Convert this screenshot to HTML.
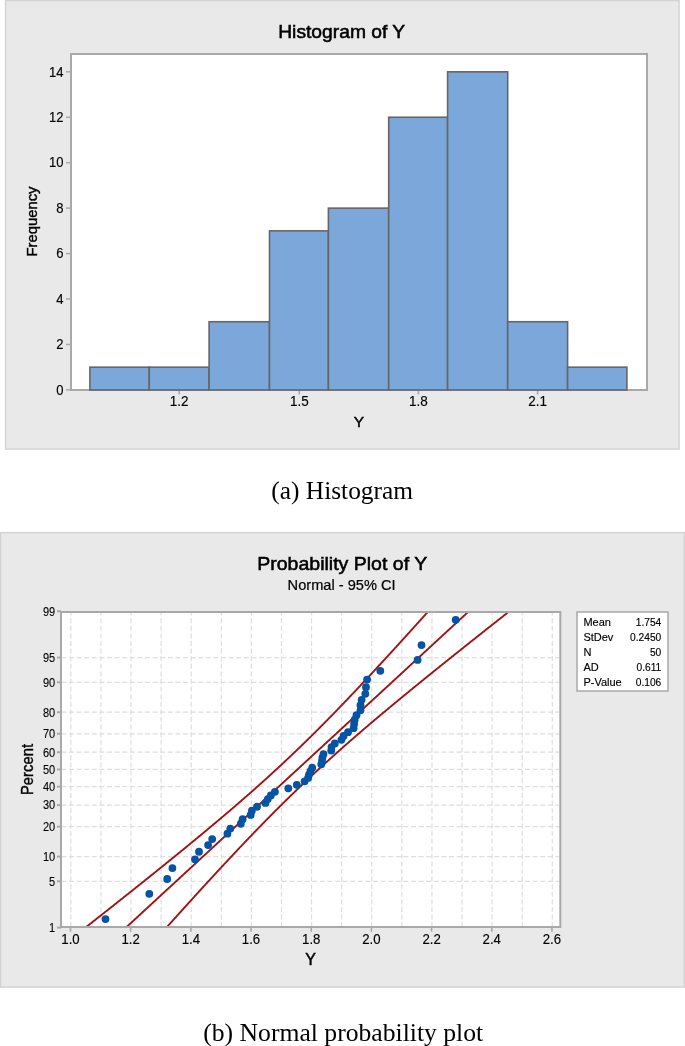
<!DOCTYPE html>
<html><head><meta charset="utf-8"><title>Histogram and Normal Probability Plot of Y</title>
<style>
html,body{margin:0;padding:0;background:#ffffff;}
body{width:685px;height:1046px;overflow:hidden;}
svg{display:block;}
</style></head>
<body>
<svg width="685" height="1046" viewBox="0 0 685 1046">
<rect x="5.6" y="0.5" width="673.5" height="448.6" fill="#e9e9e9" stroke="#d2d2d2" stroke-width="1.4"/>
<text transform="translate(341.70 37.70)" style="font-family:'Liberation Sans', Arial, sans-serif;font-size:19px" fill="#000000" stroke="#000000" stroke-width="0.55" text-anchor="middle" textLength="127" lengthAdjust="spacingAndGlyphs">Histogram of Y</text>
<rect x="71" y="54" width="576" height="336" fill="#ffffff"/>
<path d="M71 54H647V390H71Z" fill="none" stroke="#a9a9a9" stroke-width="2"/>
<rect x="89.90" y="367.18" width="59.35" height="22.82" fill="#7ba7da" stroke="#666666" stroke-width="1.6"/>
<rect x="149.25" y="367.18" width="59.85" height="22.82" fill="#7ba7da" stroke="#666666" stroke-width="1.6"/>
<rect x="209.10" y="321.74" width="60.40" height="68.26" fill="#7ba7da" stroke="#666666" stroke-width="1.6"/>
<rect x="269.50" y="230.86" width="58.90" height="159.14" fill="#7ba7da" stroke="#666666" stroke-width="1.6"/>
<rect x="328.40" y="208.14" width="60.30" height="181.86" fill="#7ba7da" stroke="#666666" stroke-width="1.6"/>
<rect x="388.70" y="117.26" width="58.90" height="272.74" fill="#7ba7da" stroke="#666666" stroke-width="1.6"/>
<rect x="447.60" y="71.82" width="60.10" height="318.18" fill="#7ba7da" stroke="#666666" stroke-width="1.6"/>
<rect x="507.70" y="321.74" width="59.90" height="68.26" fill="#7ba7da" stroke="#666666" stroke-width="1.6"/>
<rect x="567.60" y="367.18" width="59.30" height="22.82" fill="#7ba7da" stroke="#666666" stroke-width="1.6"/>
<line x1="66" y1="389.90" x2="71" y2="389.90" stroke="#a9a9a9" stroke-width="1.5"/>
<text transform="translate(63.60 394.60) scale(0.87 1)" style="font-family:'Liberation Sans', Arial, sans-serif;font-size:15px" fill="#000000" stroke="#000000" stroke-width="0.15" text-anchor="end">0</text>
<line x1="66" y1="344.46" x2="71" y2="344.46" stroke="#a9a9a9" stroke-width="1.5"/>
<text transform="translate(63.60 349.16) scale(0.87 1)" style="font-family:'Liberation Sans', Arial, sans-serif;font-size:15px" fill="#000000" stroke="#000000" stroke-width="0.15" text-anchor="end">2</text>
<line x1="66" y1="299.02" x2="71" y2="299.02" stroke="#a9a9a9" stroke-width="1.5"/>
<text transform="translate(63.60 303.72) scale(0.87 1)" style="font-family:'Liberation Sans', Arial, sans-serif;font-size:15px" fill="#000000" stroke="#000000" stroke-width="0.15" text-anchor="end">4</text>
<line x1="66" y1="253.58" x2="71" y2="253.58" stroke="#a9a9a9" stroke-width="1.5"/>
<text transform="translate(63.60 258.28) scale(0.87 1)" style="font-family:'Liberation Sans', Arial, sans-serif;font-size:15px" fill="#000000" stroke="#000000" stroke-width="0.15" text-anchor="end">6</text>
<line x1="66" y1="208.14" x2="71" y2="208.14" stroke="#a9a9a9" stroke-width="1.5"/>
<text transform="translate(63.60 212.84) scale(0.87 1)" style="font-family:'Liberation Sans', Arial, sans-serif;font-size:15px" fill="#000000" stroke="#000000" stroke-width="0.15" text-anchor="end">8</text>
<line x1="66" y1="162.70" x2="71" y2="162.70" stroke="#a9a9a9" stroke-width="1.5"/>
<text transform="translate(63.60 167.40) scale(0.87 1)" style="font-family:'Liberation Sans', Arial, sans-serif;font-size:15px" fill="#000000" stroke="#000000" stroke-width="0.15" text-anchor="end">10</text>
<line x1="66" y1="117.26" x2="71" y2="117.26" stroke="#a9a9a9" stroke-width="1.5"/>
<text transform="translate(63.60 121.96) scale(0.87 1)" style="font-family:'Liberation Sans', Arial, sans-serif;font-size:15px" fill="#000000" stroke="#000000" stroke-width="0.15" text-anchor="end">12</text>
<line x1="66" y1="71.82" x2="71" y2="71.82" stroke="#a9a9a9" stroke-width="1.5"/>
<text transform="translate(63.60 76.52) scale(0.87 1)" style="font-family:'Liberation Sans', Arial, sans-serif;font-size:15px" fill="#000000" stroke="#000000" stroke-width="0.15" text-anchor="end">14</text>
<line x1="179.20" y1="391" x2="179.20" y2="394.4" stroke="#a9a9a9" stroke-width="1.6"/>
<text transform="translate(179.20 406.00) scale(0.9 1)" style="font-family:'Liberation Sans', Arial, sans-serif;font-size:15px" fill="#000000" stroke="#000000" stroke-width="0.15" text-anchor="middle">1.2</text>
<line x1="299.30" y1="391" x2="299.30" y2="394.4" stroke="#a9a9a9" stroke-width="1.6"/>
<text transform="translate(299.30 406.00) scale(0.9 1)" style="font-family:'Liberation Sans', Arial, sans-serif;font-size:15px" fill="#000000" stroke="#000000" stroke-width="0.15" text-anchor="middle">1.5</text>
<line x1="418.40" y1="391" x2="418.40" y2="394.4" stroke="#a9a9a9" stroke-width="1.6"/>
<text transform="translate(418.40 406.00) scale(0.9 1)" style="font-family:'Liberation Sans', Arial, sans-serif;font-size:15px" fill="#000000" stroke="#000000" stroke-width="0.15" text-anchor="middle">1.8</text>
<line x1="537.60" y1="391" x2="537.60" y2="394.4" stroke="#a9a9a9" stroke-width="1.6"/>
<text transform="translate(537.60 406.00) scale(0.9 1)" style="font-family:'Liberation Sans', Arial, sans-serif;font-size:15px" fill="#000000" stroke="#000000" stroke-width="0.15" text-anchor="middle">2.1</text>
<text transform="translate(359.00 427.20)" style="font-family:'Liberation Sans', Arial, sans-serif;font-size:15.5px" fill="#000000" stroke="#000000" stroke-width="0.45" text-anchor="middle">Y</text>
<text transform="translate(37.20 221.50) rotate(-90)" style="font-family:'Liberation Sans', Arial, sans-serif;font-size:15.5px" fill="#000000" stroke="#000000" stroke-width="0.38" text-anchor="middle" textLength="70" lengthAdjust="spacingAndGlyphs">Frequency</text>
<text transform="translate(271.30 499.20)" style="font-family:'Liberation Serif', 'Times New Roman', serif;font-size:25.4px" fill="#000">(a) Histogram</text>
<rect x="0.6" y="532.6" width="683.7" height="454.5" fill="#e9e9e9" stroke="#d2d2d2" stroke-width="1.4"/>
<text transform="translate(342.20 570.20)" style="font-family:'Liberation Sans', Arial, sans-serif;font-size:19px" fill="#000000" stroke="#000000" stroke-width="0.55" text-anchor="middle" textLength="170" lengthAdjust="spacingAndGlyphs">Probability Plot of Y</text>
<text transform="translate(341.60 589.80)" style="font-family:'Liberation Sans', Arial, sans-serif;font-size:14.5px" fill="#000000" stroke="#000000" stroke-width="0.2" text-anchor="middle" textLength="108" lengthAdjust="spacingAndGlyphs">Normal - 95% CI</text>
<rect x="61" y="612" width="499.29999999999995" height="314.9" fill="#ffffff"/>
<path d="M70.85 613V925.9 M100.94 613V925.9 M131.03 613V925.9 M161.12 613V925.9 M191.21 613V925.9 M221.30 613V925.9 M251.39 613V925.9 M281.48 613V925.9 M311.57 613V925.9 M341.66 613V925.9 M371.75 613V925.9 M401.84 613V925.9 M431.93 613V925.9 M462.02 613V925.9 M492.11 613V925.9 M522.20 613V925.9 M552.29 613V925.9" stroke="#dedede" stroke-width="1.2" stroke-dasharray="5 2.6" stroke-dashoffset="2.4" fill="none"/>
<path d="M62 881.30H559.3 M62 856.60H559.3 M62 826.68H559.3 M62 805.11H559.3 M62 786.68H559.3 M62 769.45H559.3 M62 752.22H559.3 M62 733.79H559.3 M62 712.22H559.3 M62 682.30H559.3 M62 657.60H559.3" stroke="#dedede" stroke-width="1.2" stroke-dasharray="5 2.6" stroke-dashoffset="0.6" fill="none"/>
<clipPath id="pc"><rect x="61" y="612" width="499.29999999999995" height="314.9"/></clipPath>
<g clip-path="url(#pc)" fill="none" stroke="#9e1414" stroke-width="1.9">
<path d="M76.22 973.45 L76.95 972.77 L77.69 972.09 L78.43 971.41 L79.17 970.73 L79.90 970.05 L80.64 969.37 L81.38 968.69 L82.11 968.01 L82.85 967.33 L83.59 966.65 L84.33 965.97 L85.06 965.29 L85.80 964.61 L86.54 963.93 L87.28 963.25 L88.01 962.57 L88.75 961.89 L89.49 961.21 L90.22 960.53 L90.96 959.85 L91.70 959.17 L92.44 958.49 L93.17 957.81 L93.91 957.13 L94.65 956.45 L95.38 955.77 L96.12 955.09 L96.86 954.41 L97.60 953.73 L98.33 953.05 L99.07 952.37 L99.81 951.69 L100.54 951.01 L101.28 950.33 L102.02 949.65 L102.76 948.97 L103.49 948.29 L104.23 947.61 L104.97 946.93 L105.71 946.25 L106.44 945.57 L107.18 944.89 L107.92 944.21 L108.65 943.53 L109.39 942.85 L110.13 942.17 L110.87 941.49 L111.60 940.81 L112.34 940.13 L113.08 939.45 L113.81 938.77 L114.55 938.09 L115.29 937.41 L116.03 936.73 L116.76 936.05 L117.50 935.37 L118.24 934.69 L118.97 934.01 L119.71 933.33 L120.45 932.65 L121.19 931.97 L121.92 931.29 L122.66 930.61 L123.40 929.93 L124.14 929.25 L124.87 928.57 L125.61 927.89 L126.35 927.21 L127.08 926.53 L127.82 925.85 L128.56 925.17 L129.30 924.49 L130.03 923.81 L130.77 923.13 L131.51 922.45 L132.24 921.77 L132.98 921.09 L133.72 920.41 L134.46 919.73 L135.19 919.05 L135.93 918.37 L136.67 917.69 L137.41 917.01 L138.14 916.33 L138.88 915.65 L139.62 914.97 L140.35 914.29 L141.09 913.61 L141.83 912.93 L142.57 912.25 L143.30 911.57 L144.04 910.89 L144.78 910.21 L145.51 909.53 L146.25 908.85 L146.99 908.17 L147.73 907.49 L148.46 906.81 L149.20 906.13 L149.94 905.45 L150.67 904.77 L151.41 904.09 L152.15 903.41 L152.89 902.73 L153.62 902.05 L154.36 901.37 L155.10 900.69 L155.84 900.01 L156.57 899.33 L157.31 898.65 L158.05 897.97 L158.78 897.29 L159.52 896.61 L160.26 895.93 L161.00 895.25 L161.73 894.57 L162.47 893.89 L163.21 893.21 L163.94 892.53 L164.68 891.85 L165.42 891.17 L166.16 890.49 L166.89 889.81 L167.63 889.13 L168.37 888.45 L169.10 887.77 L169.84 887.09 L170.58 886.41 L171.32 885.73 L172.05 885.05 L172.79 884.37 L173.53 883.69 L174.27 883.01 L175.00 882.33 L175.74 881.65 L176.48 880.97 L177.21 880.29 L177.95 879.61 L178.69 878.93 L179.43 878.25 L180.16 877.57 L180.90 876.89 L181.64 876.21 L182.37 875.53 L183.11 874.85 L183.85 874.17 L184.59 873.49 L185.32 872.81 L186.06 872.13 L186.80 871.45 L187.54 870.77 L188.27 870.09 L189.01 869.41 L189.75 868.73 L190.48 868.05 L191.22 867.37 L191.96 866.69 L192.70 866.01 L193.43 865.33 L194.17 864.65 L194.91 863.97 L195.64 863.29 L196.38 862.61 L197.12 861.93 L197.86 861.25 L198.59 860.57 L199.33 859.89 L200.07 859.21 L200.80 858.53 L201.54 857.85 L202.28 857.17 L203.02 856.49 L203.75 855.81 L204.49 855.13 L205.23 854.45 L205.97 853.77 L206.70 853.09 L207.44 852.41 L208.18 851.73 L208.91 851.05 L209.65 850.37 L210.39 849.69 L211.13 849.01 L211.86 848.33 L212.60 847.65 L213.34 846.97 L214.07 846.29 L214.81 845.61 L215.55 844.93 L216.29 844.25 L217.02 843.57 L217.76 842.89 L218.50 842.21 L219.23 841.53 L219.97 840.85 L220.71 840.17 L221.45 839.49 L222.18 838.81 L222.92 838.13 L223.66 837.45 L224.40 836.77 L225.13 836.09 L225.87 835.41 L226.61 834.73 L227.34 834.05 L228.08 833.37 L228.82 832.69 L229.56 832.01 L230.29 831.33 L231.03 830.65 L231.77 829.97 L232.50 829.29 L233.24 828.61 L233.98 827.93 L234.72 827.25 L235.45 826.57 L236.19 825.89 L236.93 825.21 L237.66 824.53 L238.40 823.85 L239.14 823.17 L239.88 822.49 L240.61 821.81 L241.35 821.13 L242.09 820.45 L242.83 819.77 L243.56 819.09 L244.30 818.41 L245.04 817.73 L245.77 817.05 L246.51 816.37 L247.25 815.69 L247.99 815.01 L248.72 814.33 L249.46 813.65 L250.20 812.97 L250.93 812.29 L251.67 811.61 L252.41 810.93 L253.15 810.25 L253.88 809.57 L254.62 808.89 L255.36 808.21 L256.10 807.53 L256.83 806.85 L257.57 806.17 L258.31 805.49 L259.04 804.81 L259.78 804.13 L260.52 803.45 L261.26 802.77 L261.99 802.09 L262.73 801.41 L263.47 800.73 L264.20 800.05 L264.94 799.37 L265.68 798.69 L266.42 798.01 L267.15 797.33 L267.89 796.65 L268.63 795.97 L269.36 795.29 L270.10 794.61 L270.84 793.93 L271.58 793.25 L272.31 792.57 L273.05 791.89 L273.79 791.21 L274.53 790.53 L275.26 789.85 L276.00 789.17 L276.74 788.49 L277.47 787.81 L278.21 787.13 L278.95 786.45 L279.69 785.77 L280.42 785.09 L281.16 784.41 L281.90 783.73 L282.63 783.05 L283.37 782.37 L284.11 781.69 L284.85 781.01 L285.58 780.33 L286.32 779.65 L287.06 778.97 L287.79 778.29 L288.53 777.61 L289.27 776.93 L290.01 776.25 L290.74 775.57 L291.48 774.89 L292.22 774.21 L292.96 773.53 L293.69 772.85 L294.43 772.17 L295.17 771.49 L295.90 770.81 L296.64 770.13 L297.38 769.45 L298.12 768.77 L298.85 768.09 L299.59 767.41 L300.33 766.73 L301.06 766.05 L301.80 765.37 L302.54 764.69 L303.28 764.01 L304.01 763.33 L304.75 762.65 L305.49 761.97 L306.23 761.29 L306.96 760.61 L307.70 759.93 L308.44 759.25 L309.17 758.57 L309.91 757.89 L310.65 757.21 L311.39 756.53 L312.12 755.85 L312.86 755.17 L313.60 754.49 L314.33 753.81 L315.07 753.13 L315.81 752.45 L316.55 751.77 L317.28 751.09 L318.02 750.41 L318.76 749.73 L319.49 749.05 L320.23 748.37 L320.97 747.69 L321.71 747.01 L322.44 746.33 L323.18 745.65 L323.92 744.97 L324.66 744.29 L325.39 743.61 L326.13 742.93 L326.87 742.25 L327.60 741.57 L328.34 740.89 L329.08 740.21 L329.82 739.53 L330.55 738.85 L331.29 738.17 L332.03 737.49 L332.76 736.81 L333.50 736.13 L334.24 735.45 L334.98 734.77 L335.71 734.09 L336.45 733.41 L337.19 732.73 L337.92 732.05 L338.66 731.37 L339.40 730.69 L340.14 730.01 L340.87 729.33 L341.61 728.65 L342.35 727.97 L343.09 727.29 L343.82 726.61 L344.56 725.93 L345.30 725.25 L346.03 724.57 L346.77 723.89 L347.51 723.21 L348.25 722.53 L348.98 721.85 L349.72 721.17 L350.46 720.49 L351.19 719.81 L351.93 719.13 L352.67 718.45 L353.41 717.77 L354.14 717.09 L354.88 716.41 L355.62 715.73 L356.35 715.05 L357.09 714.37 L357.83 713.69 L358.57 713.01 L359.30 712.33 L360.04 711.65 L360.78 710.97 L361.52 710.29 L362.25 709.61 L362.99 708.93 L363.73 708.25 L364.46 707.57 L365.20 706.89 L365.94 706.21 L366.68 705.53 L367.41 704.85 L368.15 704.17 L368.89 703.49 L369.62 702.81 L370.36 702.13 L371.10 701.45 L371.84 700.77 L372.57 700.09 L373.31 699.41 L374.05 698.73 L374.79 698.05 L375.52 697.37 L376.26 696.69 L377.00 696.01 L377.73 695.33 L378.47 694.65 L379.21 693.97 L379.95 693.29 L380.68 692.61 L381.42 691.93 L382.16 691.25 L382.89 690.57 L383.63 689.89 L384.37 689.21 L385.11 688.53 L385.84 687.85 L386.58 687.17 L387.32 686.49 L388.05 685.81 L388.79 685.13 L389.53 684.45 L390.27 683.77 L391.00 683.09 L391.74 682.41 L392.48 681.73 L393.22 681.05 L393.95 680.37 L394.69 679.69 L395.43 679.01 L396.16 678.33 L396.90 677.65 L397.64 676.97 L398.38 676.29 L399.11 675.61 L399.85 674.93 L400.59 674.25 L401.32 673.57 L402.06 672.89 L402.80 672.21 L403.54 671.53 L404.27 670.85 L405.01 670.17 L405.75 669.49 L406.48 668.81 L407.22 668.13 L407.96 667.45 L408.70 666.77 L409.43 666.09 L410.17 665.41 L410.91 664.73 L411.65 664.05 L412.38 663.37 L413.12 662.69 L413.86 662.01 L414.59 661.33 L415.33 660.65 L416.07 659.97 L416.81 659.29 L417.54 658.61 L418.28 657.93 L419.02 657.25 L419.75 656.57 L420.49 655.89 L421.23 655.21 L421.97 654.53 L422.70 653.85 L423.44 653.17 L424.18 652.49 L424.92 651.81 L425.65 651.13 L426.39 650.45 L427.13 649.77 L427.86 649.09 L428.60 648.41 L429.34 647.73 L430.08 647.05 L430.81 646.37 L431.55 645.69 L432.29 645.01 L433.02 644.33 L433.76 643.65 L434.50 642.97 L435.24 642.29 L435.97 641.61 L436.71 640.93 L437.45 640.25 L438.18 639.57 L438.92 638.89 L439.66 638.21 L440.40 637.53 L441.13 636.85 L441.87 636.17 L442.61 635.49 L443.35 634.81 L444.08 634.13 L444.82 633.45 L445.56 632.77 L446.29 632.09 L447.03 631.41 L447.77 630.73 L448.51 630.05 L449.24 629.37 L449.98 628.69 L450.72 628.01 L451.45 627.33 L452.19 626.65 L452.93 625.97 L453.67 625.29 L454.40 624.61 L455.14 623.93 L455.88 623.25 L456.61 622.57 L457.35 621.89 L458.09 621.21 L458.83 620.53 L459.56 619.85 L460.30 619.17 L461.04 618.49 L461.78 617.81 L462.51 617.13 L463.25 616.45 L463.99 615.77 L464.72 615.09 L465.46 614.41 L466.20 613.73 L466.94 613.05 L467.67 612.37 L468.41 611.69 L469.15 611.01 L469.88 610.33 L470.62 609.65 L471.36 608.97 L472.10 608.29 L472.83 607.61 L473.57 606.93 L474.31 606.25 L475.05 605.57 L475.78 604.89 L476.52 604.21 L477.26 603.53 L477.99 602.85 L478.73 602.17 L479.47 601.49 L480.21 600.81 L480.94 600.13 L481.68 599.45 L482.42 598.77 L483.15 598.09 L483.89 597.41 L484.63 596.73 L485.37 596.05 L486.10 595.37 L486.84 594.69 L487.58 594.01 L488.31 593.33 L489.05 592.65 L489.79 591.97 L490.53 591.29 L491.26 590.61 L492.00 589.93 L492.74 589.25 L493.48 588.57 L494.21 587.89 L494.95 587.21 L495.69 586.53 L496.42 585.85 L497.16 585.17 L497.90 584.49 L498.64 583.81 L499.37 583.13 L500.11 582.45 L500.85 581.77 L501.58 581.09 L502.32 580.41 L503.06 579.73 L503.80 579.05 L504.53 578.37 L505.27 577.69 L506.01 577.01 L506.74 576.33 L507.48 575.65 L508.22 574.97 L508.96 574.29 L509.69 573.61 L510.43 572.93 L511.17 572.25 L511.91 571.57 L512.64 570.89 L513.38 570.21 L514.12 569.53 L514.85 568.85 L515.59 568.17 L516.33 567.49 L517.07 566.81 L517.80 566.13 L518.54 565.45"/>
<path d="M26.86 973.45 L27.73 972.77 L28.60 972.09 L29.47 971.41 L30.34 970.73 L31.21 970.05 L32.09 969.37 L32.96 968.69 L33.83 968.01 L34.70 967.33 L35.57 966.65 L36.44 965.97 L37.31 965.29 L38.18 964.61 L39.05 963.93 L39.92 963.25 L40.80 962.57 L41.67 961.89 L42.54 961.21 L43.41 960.53 L44.28 959.85 L45.15 959.17 L46.02 958.49 L46.89 957.81 L47.76 957.13 L48.63 956.45 L49.49 955.77 L50.36 955.09 L51.23 954.41 L52.10 953.73 L52.97 953.05 L53.84 952.37 L54.71 951.69 L55.58 951.01 L56.45 950.33 L57.32 949.65 L58.18 948.97 L59.05 948.29 L59.92 947.61 L60.79 946.93 L61.66 946.25 L62.52 945.57 L63.39 944.89 L64.26 944.21 L65.13 943.53 L65.99 942.85 L66.86 942.17 L67.73 941.49 L68.60 940.81 L69.46 940.13 L70.33 939.45 L71.20 938.77 L72.06 938.09 L72.93 937.41 L73.80 936.73 L74.66 936.05 L75.53 935.37 L76.39 934.69 L77.26 934.01 L78.13 933.33 L78.99 932.65 L79.86 931.97 L80.72 931.29 L81.59 930.61 L82.45 929.93 L83.32 929.25 L84.18 928.57 L85.05 927.89 L85.91 927.21 L86.77 926.53 L87.64 925.85 L88.50 925.17 L89.37 924.49 L90.23 923.81 L91.09 923.13 L91.96 922.45 L92.82 921.77 L93.68 921.09 L94.55 920.41 L95.41 919.73 L96.27 919.05 L97.13 918.37 L97.99 917.69 L98.86 917.01 L99.72 916.33 L100.58 915.65 L101.44 914.97 L102.30 914.29 L103.16 913.61 L104.02 912.93 L104.89 912.25 L105.75 911.57 L106.61 910.89 L107.47 910.21 L108.33 909.53 L109.19 908.85 L110.05 908.17 L110.91 907.49 L111.76 906.81 L112.62 906.13 L113.48 905.45 L114.34 904.77 L115.20 904.09 L116.06 903.41 L116.92 902.73 L117.77 902.05 L118.63 901.37 L119.49 900.69 L120.35 900.01 L121.20 899.33 L122.06 898.65 L122.92 897.97 L123.77 897.29 L124.63 896.61 L125.48 895.93 L126.34 895.25 L127.19 894.57 L128.05 893.89 L128.90 893.21 L129.76 892.53 L130.61 891.85 L131.47 891.17 L132.32 890.49 L133.18 889.81 L134.03 889.13 L134.88 888.45 L135.73 887.77 L136.59 887.09 L137.44 886.41 L138.29 885.73 L139.14 885.05 L139.99 884.37 L140.85 883.69 L141.70 883.01 L142.55 882.33 L143.40 881.65 L144.25 880.97 L145.10 880.29 L145.95 879.61 L146.80 878.93 L147.65 878.25 L148.49 877.57 L149.34 876.89 L150.19 876.21 L151.04 875.53 L151.88 874.85 L152.73 874.17 L153.58 873.49 L154.42 872.81 L155.27 872.13 L156.12 871.45 L156.96 870.77 L157.81 870.09 L158.65 869.41 L159.50 868.73 L160.34 868.05 L161.18 867.37 L162.03 866.69 L162.87 866.01 L163.71 865.33 L164.55 864.65 L165.40 863.97 L166.24 863.29 L167.08 862.61 L167.92 861.93 L168.76 861.25 L169.60 860.57 L170.44 859.89 L171.28 859.21 L172.12 858.53 L172.95 857.85 L173.79 857.17 L174.63 856.49 L175.47 855.81 L176.30 855.13 L177.14 854.45 L177.97 853.77 L178.81 853.09 L179.64 852.41 L180.48 851.73 L181.31 851.05 L182.14 850.37 L182.98 849.69 L183.81 849.01 L184.64 848.33 L185.47 847.65 L186.30 846.97 L187.13 846.29 L187.96 845.61 L188.79 844.93 L189.62 844.25 L190.45 843.57 L191.28 842.89 L192.10 842.21 L192.93 841.53 L193.76 840.85 L194.58 840.17 L195.41 839.49 L196.23 838.81 L197.06 838.13 L197.88 837.45 L198.70 836.77 L199.53 836.09 L200.35 835.41 L201.17 834.73 L201.99 834.05 L202.81 833.37 L203.63 832.69 L204.45 832.01 L205.26 831.33 L206.08 830.65 L206.90 829.97 L207.72 829.29 L208.53 828.61 L209.35 827.93 L210.16 827.25 L210.97 826.57 L211.79 825.89 L212.60 825.21 L213.41 824.53 L214.22 823.85 L215.03 823.17 L215.84 822.49 L216.65 821.81 L217.46 821.13 L218.26 820.45 L219.07 819.77 L219.88 819.09 L220.68 818.41 L221.49 817.73 L222.29 817.05 L223.09 816.37 L223.89 815.69 L224.70 815.01 L225.50 814.33 L226.30 813.65 L227.10 812.97 L227.89 812.29 L228.69 811.61 L229.49 810.93 L230.28 810.25 L231.08 809.57 L231.87 808.89 L232.67 808.21 L233.46 807.53 L234.25 806.85 L235.04 806.17 L235.83 805.49 L236.62 804.81 L237.41 804.13 L238.19 803.45 L238.98 802.77 L239.77 802.09 L240.55 801.41 L241.33 800.73 L242.12 800.05 L242.90 799.37 L243.68 798.69 L244.46 798.01 L245.24 797.33 L246.02 796.65 L246.79 795.97 L247.57 795.29 L248.35 794.61 L249.12 793.93 L249.89 793.25 L250.67 792.57 L251.44 791.89 L252.21 791.21 L252.98 790.53 L253.75 789.85 L254.51 789.17 L255.28 788.49 L256.05 787.81 L256.81 787.13 L257.57 786.45 L258.34 785.77 L259.10 785.09 L259.86 784.41 L260.62 783.73 L261.38 783.05 L262.14 782.37 L262.89 781.69 L263.65 781.01 L264.40 780.33 L265.16 779.65 L265.91 778.97 L266.66 778.29 L267.41 777.61 L268.16 776.93 L268.91 776.25 L269.65 775.57 L270.40 774.89 L271.15 774.21 L271.89 773.53 L272.63 772.85 L273.37 772.17 L274.11 771.49 L274.85 770.81 L275.59 770.13 L276.33 769.45 L277.07 768.77 L277.80 768.09 L278.54 767.41 L279.27 766.73 L280.00 766.05 L280.74 765.37 L281.47 764.69 L282.20 764.01 L282.92 763.33 L283.65 762.65 L284.38 761.97 L285.10 761.29 L285.83 760.61 L286.55 759.93 L287.27 759.25 L287.99 758.57 L288.71 757.89 L289.43 757.21 L290.15 756.53 L290.87 755.85 L291.58 755.17 L292.30 754.49 L293.01 753.81 L293.72 753.13 L294.44 752.45 L295.15 751.77 L295.86 751.09 L296.56 750.41 L297.27 749.73 L297.98 749.05 L298.68 748.37 L299.39 747.69 L300.09 747.01 L300.80 746.33 L301.50 745.65 L302.20 744.97 L302.90 744.29 L303.60 743.61 L304.30 742.93 L304.99 742.25 L305.69 741.57 L306.39 740.89 L307.08 740.21 L307.77 739.53 L308.47 738.85 L309.16 738.17 L309.85 737.49 L310.54 736.81 L311.23 736.13 L311.91 735.45 L312.60 734.77 L313.29 734.09 L313.97 733.41 L314.66 732.73 L315.34 732.05 L316.02 731.37 L316.71 730.69 L317.39 730.01 L318.07 729.33 L318.75 728.65 L319.43 727.97 L320.10 727.29 L320.78 726.61 L321.46 725.93 L322.13 725.25 L322.81 724.57 L323.48 723.89 L324.15 723.21 L324.83 722.53 L325.50 721.85 L326.17 721.17 L326.84 720.49 L327.51 719.81 L328.18 719.13 L328.85 718.45 L329.51 717.77 L330.18 717.09 L330.84 716.41 L331.51 715.73 L332.17 715.05 L332.84 714.37 L333.50 713.69 L334.16 713.01 L334.82 712.33 L335.48 711.65 L336.14 710.97 L336.80 710.29 L337.46 709.61 L338.12 708.93 L338.78 708.25 L339.44 707.57 L340.09 706.89 L340.75 706.21 L341.40 705.53 L342.06 704.85 L342.71 704.17 L343.37 703.49 L344.02 702.81 L344.67 702.13 L345.32 701.45 L345.97 700.77 L346.62 700.09 L347.27 699.41 L347.92 698.73 L348.57 698.05 L349.22 697.37 L349.87 696.69 L350.51 696.01 L351.16 695.33 L351.81 694.65 L352.45 693.97 L353.10 693.29 L353.74 692.61 L354.39 691.93 L355.03 691.25 L355.67 690.57 L356.32 689.89 L356.96 689.21 L357.60 688.53 L358.24 687.85 L358.88 687.17 L359.52 686.49 L360.16 685.81 L360.80 685.13 L361.44 684.45 L362.08 683.77 L362.72 683.09 L363.35 682.41 L363.99 681.73 L364.63 681.05 L365.26 680.37 L365.90 679.69 L366.53 679.01 L367.17 678.33 L367.80 677.65 L368.44 676.97 L369.07 676.29 L369.71 675.61 L370.34 674.93 L370.97 674.25 L371.60 673.57 L372.24 672.89 L372.87 672.21 L373.50 671.53 L374.13 670.85 L374.76 670.17 L375.39 669.49 L376.02 668.81 L376.65 668.13 L377.28 667.45 L377.91 666.77 L378.54 666.09 L379.16 665.41 L379.79 664.73 L380.42 664.05 L381.05 663.37 L381.67 662.69 L382.30 662.01 L382.92 661.33 L383.55 660.65 L384.18 659.97 L384.80 659.29 L385.43 658.61 L386.05 657.93 L386.68 657.25 L387.30 656.57 L387.92 655.89 L388.55 655.21 L389.17 654.53 L389.79 653.85 L390.42 653.17 L391.04 652.49 L391.66 651.81 L392.28 651.13 L392.90 650.45 L393.52 649.77 L394.15 649.09 L394.77 648.41 L395.39 647.73 L396.01 647.05 L396.63 646.37 L397.25 645.69 L397.87 645.01 L398.49 644.33 L399.11 643.65 L399.72 642.97 L400.34 642.29 L400.96 641.61 L401.58 640.93 L402.20 640.25 L402.81 639.57 L403.43 638.89 L404.05 638.21 L404.67 637.53 L405.28 636.85 L405.90 636.17 L406.52 635.49 L407.13 634.81 L407.75 634.13 L408.36 633.45 L408.98 632.77 L409.60 632.09 L410.21 631.41 L410.83 630.73 L411.44 630.05 L412.06 629.37 L412.67 628.69 L413.28 628.01 L413.90 627.33 L414.51 626.65 L415.13 625.97 L415.74 625.29 L416.35 624.61 L416.97 623.93 L417.58 623.25 L418.19 622.57 L418.80 621.89 L419.42 621.21 L420.03 620.53 L420.64 619.85 L421.25 619.17 L421.86 618.49 L422.48 617.81 L423.09 617.13 L423.70 616.45 L424.31 615.77 L424.92 615.09 L425.53 614.41 L426.14 613.73 L426.75 613.05 L427.36 612.37 L427.97 611.69 L428.58 611.01 L429.19 610.33 L429.80 609.65 L430.41 608.97 L431.02 608.29 L431.63 607.61 L432.24 606.93 L432.85 606.25 L433.46 605.57 L434.07 604.89 L434.68 604.21 L435.28 603.53 L435.89 602.85 L436.50 602.17 L437.11 601.49 L437.72 600.81 L438.32 600.13 L438.93 599.45 L439.54 598.77 L440.15 598.09 L440.76 597.41 L441.36 596.73 L441.97 596.05 L442.58 595.37 L443.18 594.69 L443.79 594.01 L444.40 593.33 L445.00 592.65 L445.61 591.97 L446.22 591.29 L446.82 590.61 L447.43 589.93 L448.03 589.25 L448.64 588.57 L449.25 587.89 L449.85 587.21 L450.46 586.53 L451.06 585.85 L451.67 585.17 L452.27 584.49 L452.88 583.81 L453.48 583.13 L454.09 582.45 L454.69 581.77 L455.30 581.09 L455.90 580.41 L456.51 579.73 L457.11 579.05 L457.72 578.37 L458.32 577.69 L458.92 577.01 L459.53 576.33 L460.13 575.65 L460.74 574.97 L461.34 574.29 L461.94 573.61 L462.55 572.93 L463.15 572.25 L463.75 571.57 L464.36 570.89 L464.96 570.21 L465.56 569.53 L466.17 568.85 L466.77 568.17 L467.37 567.49 L467.97 566.81 L468.58 566.13 L469.18 565.45"/>
<path d="M125.58 973.45 L126.18 972.77 L126.78 972.09 L127.39 971.41 L127.99 970.73 L128.59 970.05 L129.19 969.37 L129.80 968.69 L130.40 968.01 L131.00 967.33 L131.61 966.65 L132.21 965.97 L132.81 965.29 L133.42 964.61 L134.02 963.93 L134.63 963.25 L135.23 962.57 L135.83 961.89 L136.44 961.21 L137.04 960.53 L137.65 959.85 L138.25 959.17 L138.86 958.49 L139.46 957.81 L140.06 957.13 L140.67 956.45 L141.27 955.77 L141.88 955.09 L142.48 954.41 L143.09 953.73 L143.69 953.05 L144.30 952.37 L144.91 951.69 L145.51 951.01 L146.12 950.33 L146.72 949.65 L147.33 948.97 L147.94 948.29 L148.54 947.61 L149.15 946.93 L149.75 946.25 L150.36 945.57 L150.97 944.89 L151.57 944.21 L152.18 943.53 L152.79 942.85 L153.39 942.17 L154.00 941.49 L154.61 940.81 L155.22 940.13 L155.82 939.45 L156.43 938.77 L157.04 938.09 L157.65 937.41 L158.26 936.73 L158.86 936.05 L159.47 935.37 L160.08 934.69 L160.69 934.01 L161.30 933.33 L161.91 932.65 L162.52 931.97 L163.13 931.29 L163.74 930.61 L164.34 929.93 L164.95 929.25 L165.56 928.57 L166.17 927.89 L166.78 927.21 L167.39 926.53 L168.00 925.85 L168.62 925.17 L169.23 924.49 L169.84 923.81 L170.45 923.13 L171.06 922.45 L171.67 921.77 L172.28 921.09 L172.89 920.41 L173.50 919.73 L174.12 919.05 L174.73 918.37 L175.34 917.69 L175.95 917.01 L176.57 916.33 L177.18 915.65 L177.79 914.97 L178.41 914.29 L179.02 913.61 L179.63 912.93 L180.25 912.25 L180.86 911.57 L181.47 910.89 L182.09 910.21 L182.70 909.53 L183.32 908.85 L183.93 908.17 L184.55 907.49 L185.16 906.81 L185.78 906.13 L186.39 905.45 L187.01 904.77 L187.62 904.09 L188.24 903.41 L188.86 902.73 L189.47 902.05 L190.09 901.37 L190.71 900.69 L191.32 900.01 L191.94 899.33 L192.56 898.65 L193.18 897.97 L193.80 897.29 L194.41 896.61 L195.03 895.93 L195.65 895.25 L196.27 894.57 L196.89 893.89 L197.51 893.21 L198.13 892.53 L198.75 891.85 L199.37 891.17 L199.99 890.49 L200.61 889.81 L201.23 889.13 L201.85 888.45 L202.48 887.77 L203.10 887.09 L203.72 886.41 L204.34 885.73 L204.96 885.05 L205.59 884.37 L206.21 883.69 L206.83 883.01 L207.46 882.33 L208.08 881.65 L208.71 880.97 L209.33 880.29 L209.96 879.61 L210.58 878.93 L211.21 878.25 L211.83 877.57 L212.46 876.89 L213.09 876.21 L213.71 875.53 L214.34 874.85 L214.97 874.17 L215.59 873.49 L216.22 872.81 L216.85 872.13 L217.48 871.45 L218.11 870.77 L218.74 870.09 L219.37 869.41 L220.00 868.73 L220.63 868.05 L221.26 867.37 L221.89 866.69 L222.52 866.01 L223.15 865.33 L223.79 864.65 L224.42 863.97 L225.05 863.29 L225.69 862.61 L226.32 861.93 L226.95 861.25 L227.59 860.57 L228.22 859.89 L228.86 859.21 L229.49 858.53 L230.13 857.85 L230.77 857.17 L231.40 856.49 L232.04 855.81 L232.68 855.13 L233.32 854.45 L233.96 853.77 L234.60 853.09 L235.24 852.41 L235.88 851.73 L236.52 851.05 L237.16 850.37 L237.80 849.69 L238.44 849.01 L239.08 848.33 L239.73 847.65 L240.37 846.97 L241.02 846.29 L241.66 845.61 L242.31 844.93 L242.95 844.25 L243.60 843.57 L244.24 842.89 L244.89 842.21 L245.54 841.53 L246.19 840.85 L246.84 840.17 L247.48 839.49 L248.13 838.81 L248.78 838.13 L249.44 837.45 L250.09 836.77 L250.74 836.09 L251.39 835.41 L252.05 834.73 L252.70 834.05 L253.35 833.37 L254.01 832.69 L254.66 832.01 L255.32 831.33 L255.98 830.65 L256.64 829.97 L257.29 829.29 L257.95 828.61 L258.61 827.93 L259.27 827.25 L259.93 826.57 L260.60 825.89 L261.26 825.21 L261.92 824.53 L262.58 823.85 L263.25 823.17 L263.91 822.49 L264.58 821.81 L265.25 821.13 L265.91 820.45 L266.58 819.77 L267.25 819.09 L267.92 818.41 L268.59 817.73 L269.26 817.05 L269.93 816.37 L270.60 815.69 L271.28 815.01 L271.95 814.33 L272.62 813.65 L273.30 812.97 L273.98 812.29 L274.65 811.61 L275.33 810.93 L276.01 810.25 L276.69 809.57 L277.37 808.89 L278.05 808.21 L278.73 807.53 L279.42 806.85 L280.10 806.17 L280.78 805.49 L281.47 804.81 L282.16 804.13 L282.84 803.45 L283.53 802.77 L284.22 802.09 L284.91 801.41 L285.60 800.73 L286.29 800.05 L286.98 799.37 L287.68 798.69 L288.37 798.01 L289.07 797.33 L289.76 796.65 L290.46 795.97 L291.16 795.29 L291.86 794.61 L292.56 793.93 L293.26 793.25 L293.96 792.57 L294.66 791.89 L295.37 791.21 L296.07 790.53 L296.78 789.85 L297.48 789.17 L298.19 788.49 L298.90 787.81 L299.61 787.13 L300.32 786.45 L301.03 785.77 L301.75 785.09 L302.46 784.41 L303.18 783.73 L303.89 783.05 L304.61 782.37 L305.33 781.69 L306.04 781.01 L306.76 780.33 L307.49 779.65 L308.21 778.97 L308.93 778.29 L309.66 777.61 L310.38 776.93 L311.11 776.25 L311.83 775.57 L312.56 774.89 L313.29 774.21 L314.02 773.53 L314.75 772.85 L315.49 772.17 L316.22 771.49 L316.95 770.81 L317.69 770.13 L318.43 769.45 L319.16 768.77 L319.90 768.09 L320.64 767.41 L321.38 766.73 L322.13 766.05 L322.87 765.37 L323.61 764.69 L324.36 764.01 L325.10 763.33 L325.85 762.65 L326.60 761.97 L327.35 761.29 L328.10 760.61 L328.85 759.93 L329.60 759.25 L330.36 758.57 L331.11 757.89 L331.87 757.21 L332.62 756.53 L333.38 755.85 L334.14 755.17 L334.90 754.49 L335.66 753.81 L336.42 753.13 L337.18 752.45 L337.95 751.77 L338.71 751.09 L339.48 750.41 L340.24 749.73 L341.01 749.05 L341.78 748.37 L342.55 747.69 L343.32 747.01 L344.09 746.33 L344.86 745.65 L345.64 744.97 L346.41 744.29 L347.19 743.61 L347.96 742.93 L348.74 742.25 L349.52 741.57 L350.30 740.89 L351.08 740.21 L351.86 739.53 L352.64 738.85 L353.42 738.17 L354.21 737.49 L354.99 736.81 L355.78 736.13 L356.56 735.45 L357.35 734.77 L358.14 734.09 L358.93 733.41 L359.72 732.73 L360.51 732.05 L361.30 731.37 L362.09 730.69 L362.89 730.01 L363.68 729.33 L364.47 728.65 L365.27 727.97 L366.07 727.29 L366.86 726.61 L367.66 725.93 L368.46 725.25 L369.26 724.57 L370.06 723.89 L370.86 723.21 L371.66 722.53 L372.47 721.85 L373.27 721.17 L374.08 720.49 L374.88 719.81 L375.69 719.13 L376.49 718.45 L377.30 717.77 L378.11 717.09 L378.92 716.41 L379.73 715.73 L380.54 715.05 L381.35 714.37 L382.16 713.69 L382.97 713.01 L383.78 712.33 L384.60 711.65 L385.41 710.97 L386.23 710.29 L387.04 709.61 L387.86 708.93 L388.67 708.25 L389.49 707.57 L390.31 706.89 L391.13 706.21 L391.95 705.53 L392.77 704.85 L393.59 704.17 L394.41 703.49 L395.23 702.81 L396.05 702.13 L396.88 701.45 L397.70 700.77 L398.52 700.09 L399.35 699.41 L400.17 698.73 L401.00 698.05 L401.83 697.37 L402.65 696.69 L403.48 696.01 L404.31 695.33 L405.14 694.65 L405.96 693.97 L406.79 693.29 L407.62 692.61 L408.45 691.93 L409.28 691.25 L410.12 690.57 L410.95 689.89 L411.78 689.21 L412.61 688.53 L413.45 687.85 L414.28 687.17 L415.11 686.49 L415.95 685.81 L416.78 685.13 L417.62 684.45 L418.46 683.77 L419.29 683.09 L420.13 682.41 L420.97 681.73 L421.80 681.05 L422.64 680.37 L423.48 679.69 L424.32 679.01 L425.16 678.33 L426.00 677.65 L426.84 676.97 L427.68 676.29 L428.52 675.61 L429.36 674.93 L430.20 674.25 L431.05 673.57 L431.89 672.89 L432.73 672.21 L433.57 671.53 L434.42 670.85 L435.26 670.17 L436.11 669.49 L436.95 668.81 L437.80 668.13 L438.64 667.45 L439.49 666.77 L440.33 666.09 L441.18 665.41 L442.03 664.73 L442.87 664.05 L443.72 663.37 L444.57 662.69 L445.42 662.01 L446.26 661.33 L447.11 660.65 L447.96 659.97 L448.81 659.29 L449.66 658.61 L450.51 657.93 L451.36 657.25 L452.21 656.57 L453.06 655.89 L453.91 655.21 L454.76 654.53 L455.61 653.85 L456.47 653.17 L457.32 652.49 L458.17 651.81 L459.02 651.13 L459.88 650.45 L460.73 649.77 L461.58 649.09 L462.44 648.41 L463.29 647.73 L464.14 647.05 L465.00 646.37 L465.85 645.69 L466.71 645.01 L467.56 644.33 L468.42 643.65 L469.27 642.97 L470.13 642.29 L470.99 641.61 L471.84 640.93 L472.70 640.25 L473.55 639.57 L474.41 638.89 L475.27 638.21 L476.13 637.53 L476.98 636.85 L477.84 636.17 L478.70 635.49 L479.56 634.81 L480.42 634.13 L481.27 633.45 L482.13 632.77 L482.99 632.09 L483.85 631.41 L484.71 630.73 L485.57 630.05 L486.43 629.37 L487.29 628.69 L488.15 628.01 L489.01 627.33 L489.87 626.65 L490.73 625.97 L491.59 625.29 L492.45 624.61 L493.32 623.93 L494.18 623.25 L495.04 622.57 L495.90 621.89 L496.76 621.21 L497.62 620.53 L498.49 619.85 L499.35 619.17 L500.21 618.49 L501.07 617.81 L501.94 617.13 L502.80 616.45 L503.66 615.77 L504.53 615.09 L505.39 614.41 L506.26 613.73 L507.12 613.05 L507.98 612.37 L508.85 611.69 L509.71 611.01 L510.58 610.33 L511.44 609.65 L512.31 608.97 L513.17 608.29 L514.04 607.61 L514.90 606.93 L515.77 606.25 L516.63 605.57 L517.50 604.89 L518.36 604.21 L519.23 603.53 L520.10 602.85 L520.96 602.17 L521.83 601.49 L522.69 600.81 L523.56 600.13 L524.43 599.45 L525.29 598.77 L526.16 598.09 L527.03 597.41 L527.90 596.73 L528.76 596.05 L529.63 595.37 L530.50 594.69 L531.36 594.01 L532.23 593.33 L533.10 592.65 L533.97 591.97 L534.84 591.29 L535.70 590.61 L536.57 589.93 L537.44 589.25 L538.31 588.57 L539.18 587.89 L540.05 587.21 L540.92 586.53 L541.79 585.85 L542.65 585.17 L543.52 584.49 L544.39 583.81 L545.26 583.13 L546.13 582.45 L547.00 581.77 L547.87 581.09 L548.74 580.41 L549.61 579.73 L550.48 579.05 L551.35 578.37 L552.22 577.69 L553.09 577.01 L553.96 576.33 L554.83 575.65 L555.70 574.97 L556.57 574.29 L557.44 573.61 L558.32 572.93 L559.19 572.25 L560.06 571.57 L560.93 570.89 L561.80 570.21 L562.67 569.53 L563.54 568.85 L564.41 568.17 L565.29 567.49 L566.16 566.81 L567.03 566.13 L567.90 565.45"/>
</g>
<g fill="#0453a5"><circle cx="105.50" cy="919.08" r="3.9"/><circle cx="149.30" cy="893.79" r="3.9"/><circle cx="167.20" cy="879.01" r="3.9"/><circle cx="172.40" cy="868.11" r="3.9"/><circle cx="195.00" cy="859.28" r="3.9"/><circle cx="199.00" cy="851.75" r="3.9"/><circle cx="208.10" cy="845.11" r="3.9"/><circle cx="212.20" cy="839.12" r="3.9"/><circle cx="227.40" cy="833.63" r="3.9"/><circle cx="230.30" cy="828.53" r="3.9"/><circle cx="240.80" cy="823.75" r="3.9"/><circle cx="242.60" cy="819.21" r="3.9"/><circle cx="250.70" cy="814.89" r="3.9"/><circle cx="251.90" cy="810.75" r="3.9"/><circle cx="257.00" cy="806.75" r="3.9"/><circle cx="265.40" cy="802.88" r="3.9"/><circle cx="267.80" cy="799.11" r="3.9"/><circle cx="270.80" cy="795.43" r="3.9"/><circle cx="274.90" cy="791.83" r="3.9"/><circle cx="288.30" cy="788.29" r="3.9"/><circle cx="296.80" cy="784.80" r="3.9"/><circle cx="304.60" cy="781.35" r="3.9"/><circle cx="308.10" cy="777.93" r="3.9"/><circle cx="309.00" cy="774.53" r="3.9"/><circle cx="310.50" cy="771.14" r="3.9"/><circle cx="312.20" cy="767.76" r="3.9"/><circle cx="321.30" cy="764.37" r="3.9"/><circle cx="322.00" cy="760.97" r="3.9"/><circle cx="322.40" cy="757.55" r="3.9"/><circle cx="323.50" cy="754.10" r="3.9"/><circle cx="331.20" cy="750.61" r="3.9"/><circle cx="331.50" cy="747.07" r="3.9"/><circle cx="334.80" cy="743.47" r="3.9"/><circle cx="341.40" cy="739.79" r="3.9"/><circle cx="343.60" cy="736.02" r="3.9"/><circle cx="348.00" cy="732.15" r="3.9"/><circle cx="353.60" cy="728.15" r="3.9"/><circle cx="354.10" cy="724.01" r="3.9"/><circle cx="354.70" cy="719.69" r="3.9"/><circle cx="356.50" cy="715.15" r="3.9"/><circle cx="360.50" cy="710.37" r="3.9"/><circle cx="360.50" cy="705.27" r="3.9"/><circle cx="361.60" cy="699.78" r="3.9"/><circle cx="365.30" cy="693.79" r="3.9"/><circle cx="366.00" cy="687.15" r="3.9"/><circle cx="367.10" cy="679.62" r="3.9"/><circle cx="380.30" cy="670.79" r="3.9"/><circle cx="417.60" cy="659.89" r="3.9"/><circle cx="421.50" cy="645.11" r="3.9"/><circle cx="455.70" cy="619.82" r="3.9"/></g>
<path d="M61 612H560.3V926.9H61Z" fill="none" stroke="#a9a9a9" stroke-width="2"/>
<line x1="57" y1="927.64" x2="61" y2="927.64" stroke="#a9a9a9" stroke-width="2"/>
<text transform="translate(55.20 931.94) scale(0.92 1)" style="font-family:'Liberation Sans', Arial, sans-serif;font-size:12px" fill="#000000" stroke="#000000" stroke-width="0.1" text-anchor="end">1</text>
<line x1="57" y1="881.30" x2="61" y2="881.30" stroke="#a9a9a9" stroke-width="2"/>
<text transform="translate(55.20 885.60) scale(0.92 1)" style="font-family:'Liberation Sans', Arial, sans-serif;font-size:12px" fill="#000000" stroke="#000000" stroke-width="0.1" text-anchor="end">5</text>
<line x1="57" y1="856.60" x2="61" y2="856.60" stroke="#a9a9a9" stroke-width="2"/>
<text transform="translate(55.20 860.90) scale(0.92 1)" style="font-family:'Liberation Sans', Arial, sans-serif;font-size:12px" fill="#000000" stroke="#000000" stroke-width="0.1" text-anchor="end">10</text>
<line x1="57" y1="826.68" x2="61" y2="826.68" stroke="#a9a9a9" stroke-width="2"/>
<text transform="translate(55.20 830.98) scale(0.92 1)" style="font-family:'Liberation Sans', Arial, sans-serif;font-size:12px" fill="#000000" stroke="#000000" stroke-width="0.1" text-anchor="end">20</text>
<line x1="57" y1="805.11" x2="61" y2="805.11" stroke="#a9a9a9" stroke-width="2"/>
<text transform="translate(55.20 809.41) scale(0.92 1)" style="font-family:'Liberation Sans', Arial, sans-serif;font-size:12px" fill="#000000" stroke="#000000" stroke-width="0.1" text-anchor="end">30</text>
<line x1="57" y1="786.68" x2="61" y2="786.68" stroke="#a9a9a9" stroke-width="2"/>
<text transform="translate(55.20 790.98) scale(0.92 1)" style="font-family:'Liberation Sans', Arial, sans-serif;font-size:12px" fill="#000000" stroke="#000000" stroke-width="0.1" text-anchor="end">40</text>
<line x1="57" y1="769.45" x2="61" y2="769.45" stroke="#a9a9a9" stroke-width="2"/>
<text transform="translate(55.20 773.75) scale(0.92 1)" style="font-family:'Liberation Sans', Arial, sans-serif;font-size:12px" fill="#000000" stroke="#000000" stroke-width="0.1" text-anchor="end">50</text>
<line x1="57" y1="752.22" x2="61" y2="752.22" stroke="#a9a9a9" stroke-width="2"/>
<text transform="translate(55.20 756.52) scale(0.92 1)" style="font-family:'Liberation Sans', Arial, sans-serif;font-size:12px" fill="#000000" stroke="#000000" stroke-width="0.1" text-anchor="end">60</text>
<line x1="57" y1="733.79" x2="61" y2="733.79" stroke="#a9a9a9" stroke-width="2"/>
<text transform="translate(55.20 738.09) scale(0.92 1)" style="font-family:'Liberation Sans', Arial, sans-serif;font-size:12px" fill="#000000" stroke="#000000" stroke-width="0.1" text-anchor="end">70</text>
<line x1="57" y1="712.22" x2="61" y2="712.22" stroke="#a9a9a9" stroke-width="2"/>
<text transform="translate(55.20 716.52) scale(0.92 1)" style="font-family:'Liberation Sans', Arial, sans-serif;font-size:12px" fill="#000000" stroke="#000000" stroke-width="0.1" text-anchor="end">80</text>
<line x1="57" y1="682.30" x2="61" y2="682.30" stroke="#a9a9a9" stroke-width="2"/>
<text transform="translate(55.20 686.60) scale(0.92 1)" style="font-family:'Liberation Sans', Arial, sans-serif;font-size:12px" fill="#000000" stroke="#000000" stroke-width="0.1" text-anchor="end">90</text>
<line x1="57" y1="657.60" x2="61" y2="657.60" stroke="#a9a9a9" stroke-width="2"/>
<text transform="translate(55.20 661.90) scale(0.92 1)" style="font-family:'Liberation Sans', Arial, sans-serif;font-size:12px" fill="#000000" stroke="#000000" stroke-width="0.1" text-anchor="end">95</text>
<line x1="57" y1="611.26" x2="61" y2="611.26" stroke="#a9a9a9" stroke-width="2"/>
<text transform="translate(55.20 615.56) scale(0.92 1)" style="font-family:'Liberation Sans', Arial, sans-serif;font-size:12px" fill="#000000" stroke="#000000" stroke-width="0.1" text-anchor="end">99</text>
<line x1="70.50" y1="926.9" x2="70.50" y2="931.6999999999999" stroke="#a9a9a9" stroke-width="1.6"/>
<text transform="translate(70.50 943.90) scale(0.93 1)" style="font-family:'Liberation Sans', Arial, sans-serif;font-size:14.2px" fill="#000000" stroke="#000000" stroke-width="0.15" text-anchor="middle">1.0</text>
<line x1="130.68" y1="926.9" x2="130.68" y2="931.6999999999999" stroke="#a9a9a9" stroke-width="1.6"/>
<text transform="translate(130.68 943.90) scale(0.93 1)" style="font-family:'Liberation Sans', Arial, sans-serif;font-size:14.2px" fill="#000000" stroke="#000000" stroke-width="0.15" text-anchor="middle">1.2</text>
<line x1="190.86" y1="926.9" x2="190.86" y2="931.6999999999999" stroke="#a9a9a9" stroke-width="1.6"/>
<text transform="translate(190.86 943.90) scale(0.93 1)" style="font-family:'Liberation Sans', Arial, sans-serif;font-size:14.2px" fill="#000000" stroke="#000000" stroke-width="0.15" text-anchor="middle">1.4</text>
<line x1="251.04" y1="926.9" x2="251.04" y2="931.6999999999999" stroke="#a9a9a9" stroke-width="1.6"/>
<text transform="translate(251.04 943.90) scale(0.93 1)" style="font-family:'Liberation Sans', Arial, sans-serif;font-size:14.2px" fill="#000000" stroke="#000000" stroke-width="0.15" text-anchor="middle">1.6</text>
<line x1="311.22" y1="926.9" x2="311.22" y2="931.6999999999999" stroke="#a9a9a9" stroke-width="1.6"/>
<text transform="translate(311.22 943.90) scale(0.93 1)" style="font-family:'Liberation Sans', Arial, sans-serif;font-size:14.2px" fill="#000000" stroke="#000000" stroke-width="0.15" text-anchor="middle">1.8</text>
<line x1="371.40" y1="926.9" x2="371.40" y2="931.6999999999999" stroke="#a9a9a9" stroke-width="1.6"/>
<text transform="translate(371.40 943.90) scale(0.93 1)" style="font-family:'Liberation Sans', Arial, sans-serif;font-size:14.2px" fill="#000000" stroke="#000000" stroke-width="0.15" text-anchor="middle">2.0</text>
<line x1="431.58" y1="926.9" x2="431.58" y2="931.6999999999999" stroke="#a9a9a9" stroke-width="1.6"/>
<text transform="translate(431.58 943.90) scale(0.93 1)" style="font-family:'Liberation Sans', Arial, sans-serif;font-size:14.2px" fill="#000000" stroke="#000000" stroke-width="0.15" text-anchor="middle">2.2</text>
<line x1="491.76" y1="926.9" x2="491.76" y2="931.6999999999999" stroke="#a9a9a9" stroke-width="1.6"/>
<text transform="translate(491.76 943.90) scale(0.93 1)" style="font-family:'Liberation Sans', Arial, sans-serif;font-size:14.2px" fill="#000000" stroke="#000000" stroke-width="0.15" text-anchor="middle">2.4</text>
<line x1="551.94" y1="926.9" x2="551.94" y2="931.6999999999999" stroke="#a9a9a9" stroke-width="1.6"/>
<text transform="translate(551.94 943.90) scale(0.93 1)" style="font-family:'Liberation Sans', Arial, sans-serif;font-size:14.2px" fill="#000000" stroke="#000000" stroke-width="0.15" text-anchor="middle">2.6</text>
<text transform="translate(310.60 965.30)" style="font-family:'Liberation Sans', Arial, sans-serif;font-size:16px" fill="#000000" stroke="#000000" stroke-width="0.45" text-anchor="middle">Y</text>
<text transform="translate(32.80 769.50) rotate(-90)" style="font-family:'Liberation Sans', Arial, sans-serif;font-size:16px" fill="#000000" stroke="#000000" stroke-width="0.38" text-anchor="middle" textLength="51" lengthAdjust="spacingAndGlyphs">Percent</text>
<rect x="577" y="612" width="91" height="79" fill="#ffffff" stroke="#a9a9a9" stroke-width="1.5"/>
<text transform="translate(583.40 625.60)" style="font-family:'Liberation Sans', Arial, sans-serif;font-size:11px" fill="#000000" stroke="#000000" stroke-width="0.15">Mean</text>
<text transform="translate(661.30 625.60) scale(0.93 1)" style="font-family:'Liberation Sans', Arial, sans-serif;font-size:11px" fill="#000000" stroke="#000000" stroke-width="0.15" text-anchor="end">1.754</text>
<text transform="translate(583.40 640.60)" style="font-family:'Liberation Sans', Arial, sans-serif;font-size:11px" fill="#000000" stroke="#000000" stroke-width="0.15">StDev</text>
<text transform="translate(661.30 640.60) scale(0.93 1)" style="font-family:'Liberation Sans', Arial, sans-serif;font-size:11px" fill="#000000" stroke="#000000" stroke-width="0.15" text-anchor="end">0.2450</text>
<text transform="translate(583.40 655.60)" style="font-family:'Liberation Sans', Arial, sans-serif;font-size:11px" fill="#000000" stroke="#000000" stroke-width="0.15">N</text>
<text transform="translate(661.30 655.60) scale(0.93 1)" style="font-family:'Liberation Sans', Arial, sans-serif;font-size:11px" fill="#000000" stroke="#000000" stroke-width="0.15" text-anchor="end">50</text>
<text transform="translate(583.40 670.60)" style="font-family:'Liberation Sans', Arial, sans-serif;font-size:11px" fill="#000000" stroke="#000000" stroke-width="0.15">AD</text>
<text transform="translate(661.30 670.60) scale(0.93 1)" style="font-family:'Liberation Sans', Arial, sans-serif;font-size:11px" fill="#000000" stroke="#000000" stroke-width="0.15" text-anchor="end">0.611</text>
<text transform="translate(583.40 685.60)" style="font-family:'Liberation Sans', Arial, sans-serif;font-size:11px" fill="#000000" stroke="#000000" stroke-width="0.15">P-Value</text>
<text transform="translate(661.30 685.60) scale(0.93 1)" style="font-family:'Liberation Sans', Arial, sans-serif;font-size:11px" fill="#000000" stroke="#000000" stroke-width="0.15" text-anchor="end">0.106</text>
<text transform="translate(203.20 1040.80)" style="font-family:'Liberation Serif', 'Times New Roman', serif;font-size:26px" fill="#000" textLength="280" lengthAdjust="spacingAndGlyphs">(b) Normal probability plot</text>
</svg>
</body></html>
